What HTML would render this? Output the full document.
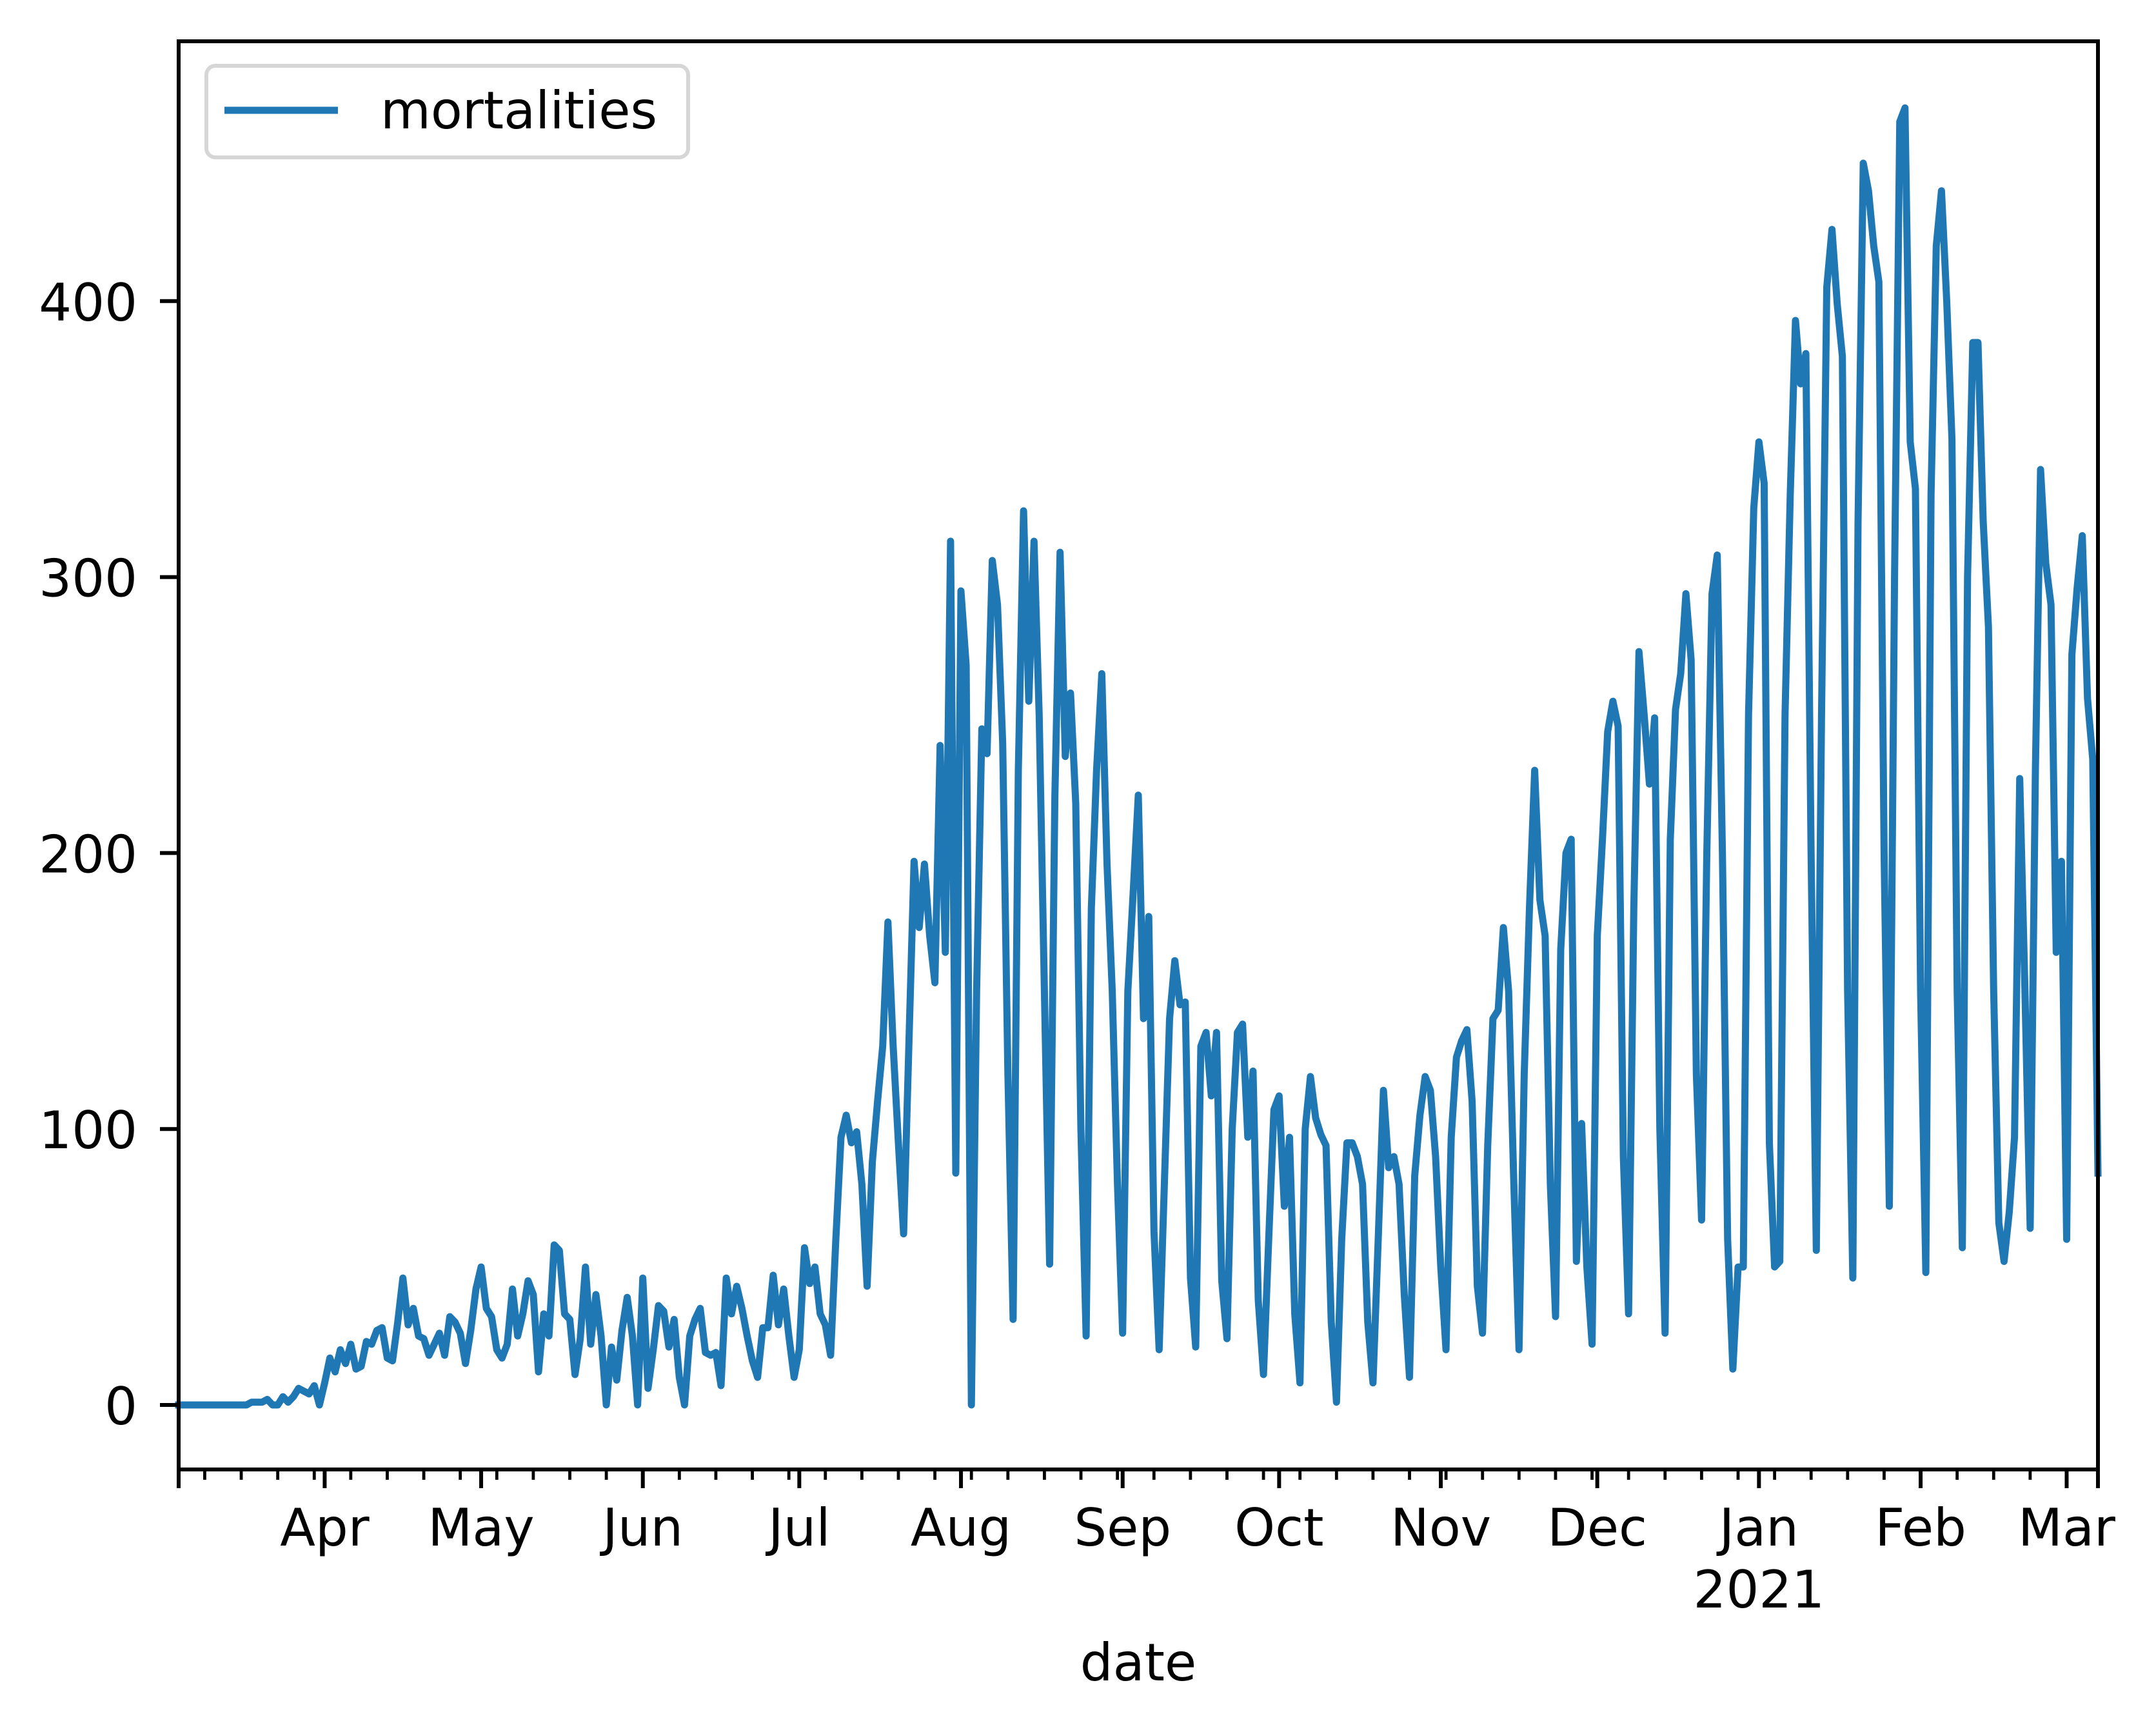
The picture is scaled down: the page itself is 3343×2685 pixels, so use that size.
<!DOCTYPE html>
<html><head><meta charset="utf-8">
<style>
html,body{margin:0;padding:0;background:#fff;}
svg{display:block;font-family:"DejaVu Sans","Liberation Sans",sans-serif;}
</style></head>
<body>
<svg id="chart" width="3343" height="2685" viewBox="0 0 3343 2685" xmlns="http://www.w3.org/2000/svg">
<rect width="3343" height="2685" fill="#fff"/>
<path id="series" fill="none" stroke="#1f77b4" stroke-width="11" stroke-linejoin="round" stroke-linecap="square"/>
<rect x="277" y="64" width="2976" height="2214" fill="none" stroke="#000" stroke-width="6"/>
<g id="yticks"></g>
<g id="xticks"></g>
<text x="1765" y="2605" font-size="80" text-anchor="middle">date</text>
<g>
<rect x="320" y="102" width="747" height="142" rx="14" fill="#fff" fill-opacity="0.8" stroke="#d6d6d6" stroke-width="6"/>
<line x1="348" y1="171" x2="524" y2="171" stroke="#1f77b4" stroke-width="11"/>
<text x="590" y="199" font-size="80">mortalities</text>
</g>
</svg>
<script>
const startDate = [2020, 2, 4];
const mar2020 = [0,0,0,0,0,0,0,0,0,0,0,0,0,0, 1,1,1,2,0,0,3,1,3,6,5,4,7,0];
const apr2020 = [8,17,12,20,15,22,13,14,23,22,27,28,17,16,30,46,29,35,25,24,18,22,26,18,32,30,26,15,27,42];
const may2020 = [50,35,32,20,17,22,42,25,33,45,40,12,33,25,58,56,33,31,11,24,50,22,40,25,0,21,9,27,39,25,0];
const jun2020 = [46,6,20,36,34,21,31,10,0,25,31,35,19,18,19,7,46,33,43,35,25,16,10,28,28,47,29,42,25,10];
const jul2020 = [20,57,44,50,33,29,18,60,97,105,95,99,80,43,88,110,130,175,130,95,62,130,197,173,196,170,153,239,164,313,84];
const aug2020 = [295,268,0,150,245,236,306,290,240,120,31,230,324,255,313,250,150,51,220,309,235,258,218,100,25,180,230,265,196,150,80];
const sep2020 = [26,150,185,221,140,177,63,20,80,140,161,145,146,46,21,130,135,112,135,45,24,100,135,138,97,121,38,11,60,107];
const oct2020 = [112,72,97,33,8,100,119,104,98,94,30,1,60,95,95,90,80,30,8,60,114,86,90,80,40,10,83,105,119,114,90];
const nov2020 = [50,20,97,126,132,136,110,43,26,94,140,143,173,150,80,20,120,180,230,183,170,80,32,165,200,205,52,102,50,22];
const dec2020 = [170,205,244,255,246,90,33,180,273,250,225,249,100,26,205,252,265,294,270,120,67,200,294,308,200,60,13,50,50,250,325];
const jan2021 = [349,334,95,50,52,250,330,393,370,381,200,56,250,405,426,399,380,150,46,320,450,440,420,407,200,72,300,465,470,349,332];
const feb2021 = [150,48,330,420,440,400,350,150,57,300,385,385,320,282,150,66,52,70,97,227,150,64,230,339,305,290,164,197];
const mar2021 = [60,272,296,315,256,234,84];
const yTicks = [0,100,200,300,400];
const monthLabels = ["Apr","May","Jun","Jul","Aug","Sep","Oct","Nov","Dec","Jan","Feb","Mar"];

const values = [].concat(mar2020,apr2020,may2020,jun2020,jul2020,aug2020,sep2020,oct2020,nov2020,dec2020,jan2021,feb2021,mar2021);
const NS = "http://www.w3.org/2000/svg";
const L = 277, R = 3253, T = 64, B = 2278;
const DAY = 86400000;
const t0 = Date.UTC(startDate[0], startDate[1], startDate[2]);
const nDays = values.length - 1;
function xDay(d){ return L + d * (R - L) / nDays; }
function xDate(ms){ return xDay((ms - t0) / DAY); }
function y(v){ return 2178 - v * 4.278; }

let d = "";
values.forEach((v,i)=>{ d += (i ? "L" : "M") + xDay(i).toFixed(1) + "," + y(v).toFixed(1); });
document.getElementById("series").setAttribute("d", d);

const yg = document.getElementById("yticks");
yTicks.forEach(v=>{
  const ln = document.createElementNS(NS,"line");
  
  
  ln.setAttribute("x1", L - 29); ln.setAttribute("x2", L);
  ln.setAttribute("y1", y(v)); ln.setAttribute("y2", y(v));
  ln.setAttribute("stroke", "#000"); ln.setAttribute("stroke-width", "6");
  yg.appendChild(ln);
  const tx = document.createElementNS(NS,"text");
  
  
  tx.setAttribute("x", 213); tx.setAttribute("y", y(v) + 30);
  tx.setAttribute("font-size", "80"); tx.setAttribute("text-anchor", "end");
  tx.textContent = v;
  yg.appendChild(tx);
});

const xg = document.getElementById("xticks");
const tEnd = t0 + nDays * DAY;
for (let t = Date.UTC(2020,2,9); t <= tEnd; t += 7*DAY) {
  const ln = document.createElementNS(NS,"line");
  
  
  const x = xDate(t);
  ln.setAttribute("x1", x); ln.setAttribute("x2", x);
  ln.setAttribute("y1", B); ln.setAttribute("y2", B + 16);
  ln.setAttribute("stroke", "#000"); ln.setAttribute("stroke-width", "4.8");
  xg.appendChild(ln);
}
[L, R].forEach(x=>{
  const ln = document.createElementNS(NS,"line");
  
  
  ln.setAttribute("x1", x); ln.setAttribute("x2", x);
  ln.setAttribute("y1", B); ln.setAttribute("y2", B + 29);
  ln.setAttribute("stroke", "#000"); ln.setAttribute("stroke-width", "6");
  xg.appendChild(ln);
});
monthLabels.forEach((m,i)=>{
  const yr = 2020 + Math.floor((3 + i) / 12);
  const mo = (3 + i) % 12;
  const x = xDate(Date.UTC(yr, mo, 1));
  const ln = document.createElementNS(NS,"line");
  
  
  ln.setAttribute("x1", x); ln.setAttribute("x2", x);
  ln.setAttribute("y1", B); ln.setAttribute("y2", B + 29);
  ln.setAttribute("stroke", "#000"); ln.setAttribute("stroke-width", "6");
  xg.appendChild(ln);
  const tx = document.createElementNS(NS,"text");
  
  
  tx.setAttribute("x", x); tx.setAttribute("y", 2396);
  tx.setAttribute("font-size", "80"); tx.setAttribute("text-anchor", "middle");
  tx.textContent = m;
  xg.appendChild(tx);
  if (m === "Jan") {
    const t2 = document.createElementNS(NS,"text");
    
    
    t2.setAttribute("x", x); t2.setAttribute("y", 2492);
    t2.setAttribute("font-size", "80"); t2.setAttribute("text-anchor", "middle");
    t2.textContent = "2021";
    xg.appendChild(t2);
  }
});
</script>
</body></html>
